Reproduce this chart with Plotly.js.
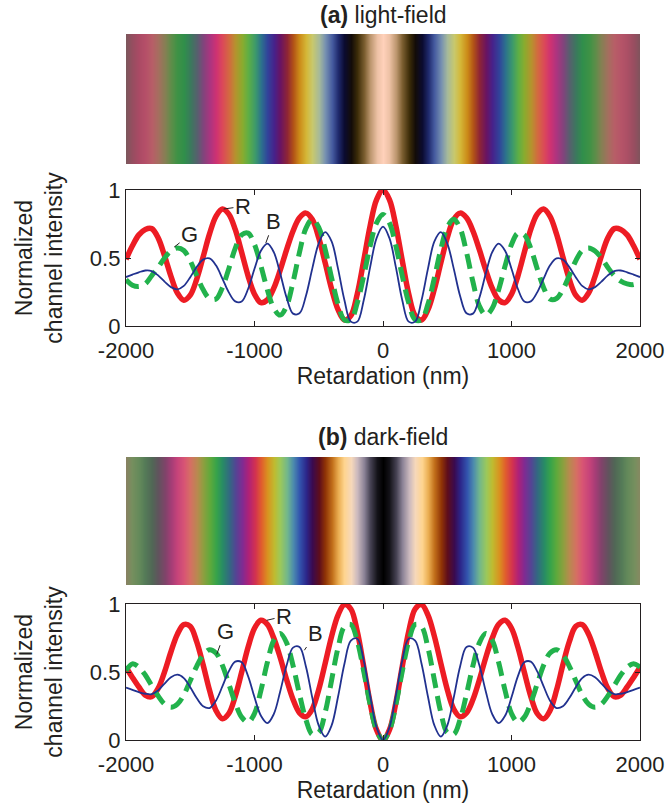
<!DOCTYPE html>
<html>
<head>
<meta charset="utf-8">
<script src="https://cdn.plot.ly/plotly-3.0.1.min.js"></script>
<style>html,body{margin:0;padding:0;background:#fff;}#chart{width:669px;height:803px;}</style>
</head>
<body>
<div id="chart"></div>
<script>
// Retardation grid (nm)
const retardation = [-2000,-1950,-1900,-1850,-1800,-1750,-1700,-1650,-1600,-1550,-1500,-1450,-1400,-1350,-1300,-1250,-1200,-1150,-1100,-1050,-1000,-950,-900,-850,-800,-750,-700,-650,-600,-550,-500,-450,-400,-350,-300,-250,-200,-150,-100,-50,0,50,100,150,200,250,300,350,400,450,500,550,600,650,700,750,800,850,900,950,1000,1050,1100,1150,1200,1250,1300,1350,1400,1450,1500,1550,1600,1650,1700,1750,1800,1850,1900,1950,2000];

// (a) light-field channel intensities
const lightR = [.490,.590,.670,.710,.716,.648,.516,.365,.242,.190,.227,.343,.507,.677,.806,.860,.823,.710,.542,.369,.234,.172,.192,.278,.410,.561,.699,.796,.830,.783,.649,.464,.272,.120,.044,.076,.236,.481,.737,.929,
1.000,
.929,.737,.481,.236,.076,.044,.120,.272,.464,.649,.783,.830,.796,.699,.561,.410,.278,.192,.172,.234,.369,.542,.710,.823,.860,.806,.677,.507,.343,.227,.190,.242,.365,.516,.648,.716,.710,.670,.590,.490];
const lightG = [.34,.30,.29,.31,.37,.43,.50,.552,.574,.555,.479,.371,.268,.202,.198,.282,.421,.571,.670,.683,.599,.442,.267,.131,.080,.147,.324,.541,.718,.785,.725,.564,.354,.161,.045,.046,.171,.369,.589,.758,
.82,
.758,.589,.369,.171,.046,.045,.161,.354,.564,.725,.785,.718,.541,.324,.147,.080,.131,.267,.442,.599,.683,.670,.571,.421,.282,.198,.202,.268,.371,.479,.555,.574,.552,.50,.43,.37,.33,.31,.305,.33];
const lightB = [.36,.378,.395,.408,.404,.372,.326,.286,.270,.295,.359,.433,.488,.497,.446,.349,.247,.181,.180,.272,.421,.553,.605,.543,.386,.208,.091,.093,.221,.424,.608,.690,.622,.422,.190,.032,.032,.190,.433,.646,
.73,
.646,.433,.190,.032,.032,.190,.422,.622,.690,.608,.424,.221,.093,.091,.208,.386,.543,.605,.553,.421,.272,.180,.181,.247,.349,.446,.497,.488,.433,.359,.295,.270,.286,.326,.372,.404,.408,.395,.378,.36];

// (b) dark-field channel intensities
const darkR = [.535,.46,.39,.33,.318,.379,.501,.649,.778,.848,.836,.723,.553,.365,.217,.156,.195,.321,.498,.682,.822,.880,.850,.749,.607,.443,.298,.200,.171,.228,.372,.564,.762,.919,.996,.963,.796,.541,.274,.074,
0,
.074,.274,.541,.796,.963,.996,.919,.762,.564,.372,.228,.171,.200,.298,.443,.607,.749,.850,.880,.822,.682,.498,.321,.195,.156,.217,.365,.553,.723,.836,.848,.778,.649,.501,.379,.318,.33,.39,.46,.535];
const darkG = [.51,.560,.536,.478,.400,.324,.264,.240,.263,.332,.436,.542,.625,.664,.640,.550,.412,.273,.168,.130,.195,.364,.570,.732,.784,.714,.547,.337,.150,.041,.054,.203,.440,.678,.833,.849,.727,.505,.260,.071,
0,
.071,.260,.505,.727,.849,.833,.678,.440,.203,.054,.041,.150,.337,.547,.714,.784,.732,.570,.364,.195,.130,.168,.273,.412,.550,.640,.664,.625,.542,.436,.332,.263,.240,.264,.324,.400,.478,.536,.560,.535];
const darkB = [.385,.368,.352,.340,.337,.365,.415,.461,.480,.455,.388,.308,.248,.235,.289,.394,.505,.576,.571,.470,.314,.178,.124,.190,.357,.549,.679,.684,.541,.310,.106,.025,.107,.318,.561,.730,.745,.585,.326,.093,
0,
.093,.326,.585,.745,.730,.561,.318,.107,.025,.106,.310,.541,.684,.679,.549,.357,.190,.124,.178,.314,.470,.571,.576,.505,.394,.289,.235,.248,.308,.388,.455,.480,.461,.415,.365,.337,.340,.352,.368,.385];

const xTickVals = [-2000,-1000,0,1000,2000];
const xTickText = ['-2000','-1000','0','1000','2000'];
const yTickVals = [0,0.5,1];
const yTickText = ['0','0.5','1'];
const channelNames = ['R','G','B'];
const panelTitles = ['<b>(a)</b> light-field','<b>(b)</b> dark-field'];
const xTitle = 'Retardation (nm)';
const yTitle = 'Normalized<br>channel intensity';

const FONT = '"Liberation Sans", Arial, Helvetica, sans-serif';
const INK = '#231f20';
const W = 669, H = 803;
const px = v => v / W;
const py = v => 1 - v / H;

function stripScale(R, G, B) {
  const lo = retardation[0], hi = retardation[retardation.length - 1];
  return retardation.map((x, i) => [
    (x - lo) / (hi - lo),
    'rgb(' + Math.round(R[i] * 255) + ',' + Math.round(G[i] * 255) + ',' + Math.round(B[i] * 255) + ')'
  ]);
}

function panelTraces(R, G, B, xa, ya, sxa, sya) {
  return [
    {type: 'heatmap', x: retardation, y: [0, 1], z: [retardation, retardation],
     zmin: retardation[0], zmax: retardation[retardation.length - 1],
     colorscale: stripScale(R, G, B), zsmooth: 'best', showscale: false,
     hoverinfo: 'skip', xaxis: sxa, yaxis: sya},
    {type: 'scatter', mode: 'lines', name: channelNames[0], x: retardation, y: R,
     line: {color: '#ed1c24', width: 5.5, shape: 'spline'}, xaxis: xa, yaxis: ya},
    {type: 'scatter', mode: 'lines', name: channelNames[1], x: retardation, y: G,
     line: {color: '#22b24c', width: 5, shape: 'spline', dash: '15px,8px'}, xaxis: xa, yaxis: ya},
    {type: 'scatter', mode: 'lines', name: channelNames[2], x: retardation, y: B,
     line: {color: '#21318f', width: 1.8, shape: 'spline'}, xaxis: xa, yaxis: ya}
  ];
}

const data = [].concat(
  panelTraces(lightR, lightG, lightB, 'x', 'y', 'x2', 'y2'),
  panelTraces(darkR, darkG, darkB, 'x3', 'y3', 'x4', 'y4')
);

const TICK = 22, TITLE = 23;
const xDom = [px(126), px(640)];
function plotX(anchor) {
  return {domain: xDom, anchor: anchor, range: [-2000, 2000], tickvals: xTickVals, ticktext: xTickText,
    ticks: 'inside', ticklen: 5, tickcolor: INK, tickwidth: 1, showline: true, linecolor: INK, linewidth: 1.2,
    mirror: 'ticks', showgrid: false, zeroline: false, ticklabelstandoff: 4,
    tickfont: {family: FONT, size: TICK, color: INK},
    title: {text: xTitle, font: {family: FONT, size: TITLE, color: INK}, standoff: 4}};
}
function plotY(anchor, dom) {
  return {domain: dom, anchor: anchor, range: [0, 1], tickvals: yTickVals, ticktext: yTickText,
    ticks: 'inside', ticklen: 5, tickcolor: INK, tickwidth: 1, showline: true, linecolor: INK, linewidth: 1.2,
    mirror: 'ticks', showgrid: false, zeroline: false,
    tickfont: {family: FONT, size: TICK, color: INK},
    title: {text: yTitle, font: {family: FONT, size: TITLE, color: INK}, standoff: 20}};
}
function stripX(anchor) {
  return {domain: xDom, anchor: anchor, range: [-2000, 2000], visible: false, fixedrange: true};
}
function stripY(anchor, dom) {
  return {domain: dom, anchor: anchor, range: [0, 1], visible: false, fixedrange: true};
}

function lbl(xref, yref, text, x, y, ax, ay) {
  return {xref: xref, yref: yref, axref: xref, ayref: yref, x: x, y: y, ax: ax, ay: ay,
    text: text, showarrow: true, arrowhead: 0, arrowwidth: 1, arrowcolor: INK, standoff: 0, startstandoff: 0,
    font: {family: FONT, size: TICK, color: INK}};
}

const layout = {
  width: W, height: H, margin: {l: 0, r: 0, t: 0, b: 0},
  paper_bgcolor: '#fff', plot_bgcolor: '#fff', showlegend: false,
  xaxis: plotX('y'), yaxis: plotY('x', [py(326), py(190)]),
  xaxis2: stripX('y2'), yaxis2: stripY('x2', [py(164), py(34)]),
  xaxis3: plotX('y3'), yaxis3: plotY('x3', [py(740), py(604)]),
  xaxis4: stripX('y4'), yaxis4: stripY('x4', [py(585), py(457)]),
  annotations: [
    {xref: 'paper', yref: 'paper', x: px(383), y: py(15), text: panelTitles[0], showarrow: false,
     xanchor: 'center', yanchor: 'middle', font: {family: FONT, size: TITLE, color: INK}},
    {xref: 'paper', yref: 'paper', x: px(383), y: py(437), text: panelTitles[1], showarrow: false,
     xanchor: 'center', yanchor: 'middle', font: {family: FONT, size: TITLE, color: INK}},
    lbl('x', 'y', channelNames[0], -1240, 0.86, -1090, 0.88),
    lbl('x', 'y', channelNames[1], -1625, 0.58, -1505, 0.67),
    lbl('x', 'y', channelNames[2], -912, 0.61, -850, 0.77),
    lbl('x3', 'y3', channelNames[1], -1294, 0.63, -1228, 0.80),
    lbl('x3', 'y3', channelNames[0], -905, 0.88, -770, 0.91),
    lbl('x3', 'y3', channelNames[2], -612, 0.66, -525, 0.78)
  ]
};

Plotly.newPlot('chart', data, layout, {staticPlot: true, displayModeBar: false});
</script>
</body>
</html>
